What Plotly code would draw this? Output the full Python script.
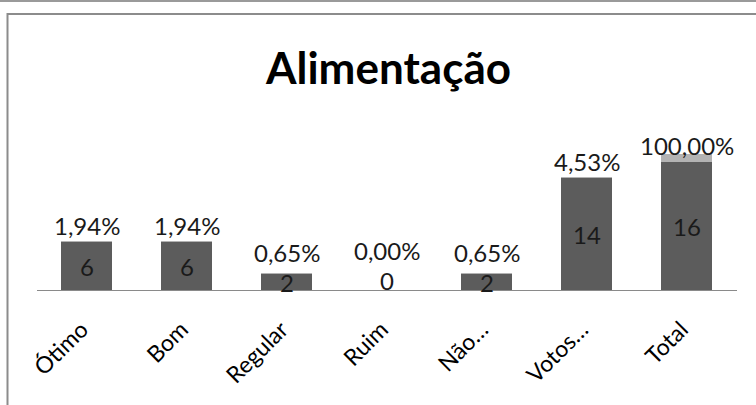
import plotly.graph_objects as go

categories = ["Ótimo", "Bom", "Regular", "Ruim", "Não…", "Votos…", "Total"]
counts = [6, 6, 2, 0, 2, 14, 16]
pct = [0.0194, 0.0194, 0.0065, 0.0, 0.0065, 0.0453, 1.0]
title_text = "Alimentação"

W, H = 756, 405
def px(x):
    return x / W
def py(y):
    return 1 - y / H

FONT = "Lato, 'DejaVu Sans', sans-serif"
DARK = "#5c5c5c"
LIGHT = "#b3b3b3"

Y_BASE, Y_TOP, Y_MAX = 290, 100, 23.75
PX_PER_UNIT = (Y_BASE - Y_TOP) / Y_MAX

fig = go.Figure()
fig.add_trace(go.Bar(x=categories, y=counts, marker=dict(color=DARK, line=dict(width=0)),
                     width=0.51, hoverinfo="skip"))
fig.add_trace(go.Bar(x=categories, y=pct, marker=dict(color=LIGHT, line=dict(width=0)),
                     width=0.51, hoverinfo="skip"))

annotations = []
for c, v, p in zip(categories, counts, pct):
    h = v * PX_PER_UNIT
    count_shift = 10 if v == 0 else 0
    annotations.append(dict(x=c, y=v / 2, xref="x", yref="y", text=str(v), showarrow=False,
                            yanchor="middle", yshift=count_shift, borderpad=0,
                            font=dict(family=FONT, size=24, color="#1a1a1a")))
    label = f"{p * 100:.2f}".replace(".", ",") + "%"
    count_center_above_top = count_shift if v == 0 else -h / 2
    pshift = max(17, count_center_above_top + 30)
    annotations.append(dict(x=c, y=v, xref="x", yref="y", text=label, showarrow=False,
                            yanchor="middle", yshift=pshift, borderpad=0,
                            font=dict(family=FONT, size=24, color="#1a1a1a")))

annotations.append(dict(x=px(388.5), y=py(67), xref="paper", yref="paper", text="<b>" + title_text + "</b>",
                        showarrow=False, xanchor="center", yanchor="middle",
                        font=dict(family=FONT, size=44, color="#000000")))

shapes = [
    dict(type="line", xref="paper", yref="paper", x0=0, x1=1, y0=py(1), y1=py(1),
         line=dict(color="#9a9a9a", width=2)),
    dict(type="rect", xref="paper", yref="paper", x0=px(7.5), x1=px(800), y0=py(14), y1=py(460),
         line=dict(color="#8c8c8c", width=2), fillcolor="rgba(0,0,0,0)"),
]

fig.update_layout(
    width=W, height=H, autosize=False,
    margin=dict(l=0, r=0, t=0, b=0, pad=0, autoexpand=False),
    paper_bgcolor="white", plot_bgcolor="white",
    barmode="stack", showlegend=False,
    annotations=annotations, shapes=shapes,
    xaxis=dict(domain=[px(36.5), px(736.5)], range=[-0.5, 6.5], showgrid=False, zeroline=False,
               automargin=False,
               showline=True, linecolor="#8a8a8a", linewidth=1, ticks="", tickangle=-45,
               ticklabelstandoff=16, ticklabelshift=-5,
               tickfont=dict(family=FONT, size=23, color="#000000")),
    yaxis=dict(domain=[py(Y_BASE), py(Y_TOP)], range=[0, Y_MAX], visible=False, showgrid=False,
               automargin=False, zeroline=False),
)

# remove the default page margin right away (runs synchronously, before the plot promise resolves)
reset_margin = ("document.documentElement.style.margin='0';"
                "document.body.style.margin='0';document.body.style.padding='0';"
                "document.body.style.overflow='hidden';")
fig.write_html("out.html", config={"displayModeBar": False},
               post_script="}); " + reset_margin + " (function(){")
